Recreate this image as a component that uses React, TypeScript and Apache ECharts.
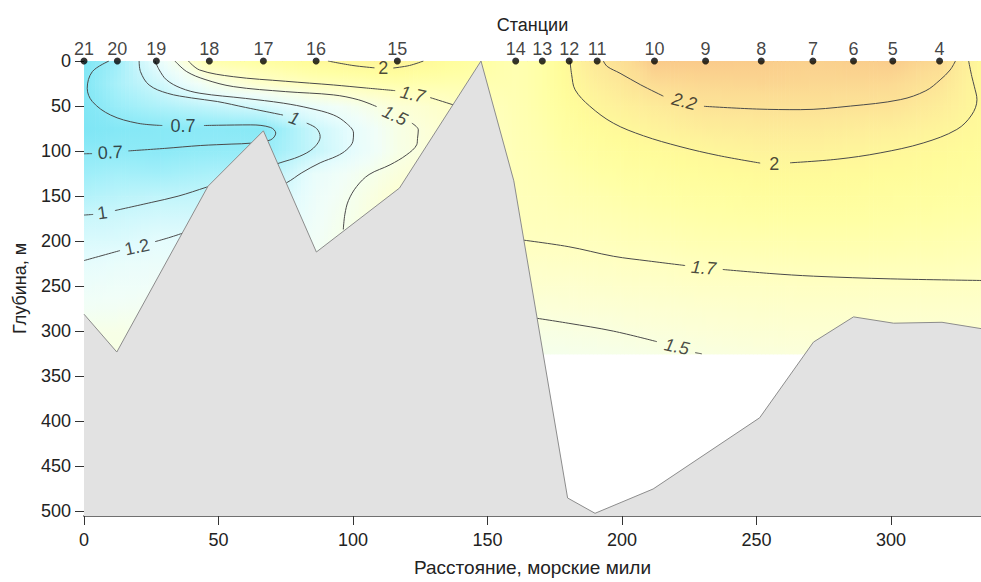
import React, { useEffect, useRef } from "react";
import * as echarts from "echarts";

// ---------------- DATA ----------------
const STATION_NAMES = ["21", "20", "19", "18", "17", "16", "15", "14", "13", "12", "11", "10", "9", "8", "7", "6", "5", "4"];
const STATION_X = [0, 12.4, 26.9, 46.6, 66.7, 86.3, 116.5, 160.5, 170.4, 180.4, 190.8, 212.1, 231.1, 251.8, 271, 286.1, 300.7, 318.1];
const FIELD_EDGE_X = 333.5;
const DEPTHS = [0, 25, 50, 75, 100, 125, 150, 175, 200, 225, 250, 275, 300, 325];

// temperature profiles (°C) per station at DEPTHS
const T_ST21 = [0.62, 0.63, 0.6, 0.58, 0.69, 0.78, 0.89, 1.02, 1.12, 1.21, 1.3, 1.37, 1.46, 1.48];
const T_ST20 = [0.79, 0.84, 0.76, 0.64, 0.7, 0.82, 0.93, 1.04, 1.13, 1.25, 1.32, 1.38, 1.46, 1.48];
const T_ST19 = [1.22, 1.03, 0.86, 0.66, 0.68, 0.8, 0.96, 1.08, 1.2, 1.28, 1.34, 1.4, 1.45, 1.47];
const T_ST18 = [1.8, 1.42, 0.97, 0.68, 0.72, 0.85, 0.97, 1.08, 1.2, 1.28, 1.34, 1.38, 1.42, 1.45];
const T_ST17 = [1.88, 1.62, 1.1, 0.66, 0.74, 0.85, 0.97, 1.08, 1.2, 1.28, 1.34, 1.38, 1.42, 1.45];
const T_ST16 = [1.97, 1.72, 1.28, 1.02, 0.99, 1.26, 1.3, 1.33, 1.36, 1.38, 1.4, 1.42, 1.44, 1.45];
const T_ST15 = [2.04, 1.8, 1.55, 1.47, 1.46, 1.52, 1.58, 1.6, 1.62, 1.62, 1.6, 1.58, 1.55, 1.52];
const T_ST14 = [1.78, 1.78, 1.77, 1.76, 1.75, 1.74, 1.73, 1.72, 1.7, 1.65, 1.6, 1.54, 1.48, 1.44];
const T_ST13 = [1.84, 1.84, 1.83, 1.81, 1.79, 1.77, 1.75, 1.73, 1.7, 1.65, 1.6, 1.54, 1.48, 1.43];
const T_ST12 = [2.0, 1.97, 1.93, 1.89, 1.85, 1.81, 1.78, 1.74, 1.71, 1.66, 1.6, 1.55, 1.49, 1.44];
const T_ST11 = [2.15, 2.08, 2.02, 1.95, 1.9, 1.85, 1.8, 1.76, 1.72, 1.67, 1.62, 1.56, 1.5, 1.45];
const T_ST10 = [2.33, 2.25, 2.12, 2.04, 1.96, 1.9, 1.85, 1.8, 1.75, 1.69, 1.64, 1.58, 1.53, 1.47];
const T_ST9 = [2.33, 2.27, 2.2, 2.1, 2.0, 1.94, 1.88, 1.83, 1.78, 1.72, 1.66, 1.6, 1.55, 1.5];
const T_ST8 = [2.32, 2.28, 2.21, 2.12, 2.04, 1.97, 1.91, 1.85, 1.79, 1.73, 1.67, 1.62, 1.57, 1.52];
const T_ST7 = [2.3, 2.27, 2.21, 2.12, 2.04, 1.97, 1.92, 1.86, 1.8, 1.74, 1.68, 1.63, 1.58, 1.53];
const T_ST6 = [2.31, 2.27, 2.2, 2.1, 2.02, 1.96, 1.91, 1.86, 1.8, 1.74, 1.68, 1.63, 1.58, 1.53];
const T_ST5 = [2.32, 2.26, 2.19, 2.08, 2.0, 1.95, 1.9, 1.85, 1.8, 1.74, 1.68, 1.63, 1.58, 1.53];
const T_ST4 = [2.26, 2.18, 2.1, 2.03, 1.97, 1.93, 1.89, 1.84, 1.79, 1.74, 1.68, 1.63, 1.58, 1.53];
const T_EDGE = [1.98, 1.98, 1.99, 1.97, 1.94, 1.91, 1.87, 1.83, 1.78, 1.73, 1.68, 1.63, 1.58, 1.53];

// bottom profile (distance, depth)
const BOTTOM_X = [0, 12.2, 46.1, 66.7, 86.4, 117.3, 147.6, 159.8, 179.8, 190, 211.6, 251.2, 271.2, 286.1, 301, 319, 333.5];
const BOTTOM_D = [281, 323, 139, 77.5, 212, 141, 0, 133, 485, 502, 475, 396, 312, 284, 291, 290, 297];

// isotherms, as segments of [distance, depth] (gaps where the labels sit)
const ISO_0_7 = [
  [[0, 103], [3, 102.8]],
  [[16.5, 99.8], [30, 97], [43.4, 93.8], [55, 92.2], [62, 91.2], [69.4, 87.5], [71.3, 80], [69.4, 73.8], [62, 70.9], [50, 71.3], [44.6, 71.6]],
  [[29.1, 71.6], [19.8, 69], [9.9, 60], [3.1, 45], [1.2, 30.3], [3.1, 11.8], [9.3, 0]],
];
const ISO_1 = [
  [[0, 171], [3.4, 170.3]],
  [[11.5, 166], [25, 157], [35, 150], [45.6, 140], [60, 126], [72.9, 113], [80, 106], [85.3, 96.7], [87.8, 84], [86.5, 75], [82.8, 69]],
  [[74, 60], [60, 51.5], [49.6, 45], [40, 41], [31, 35.8], [24.2, 26.6], [21, 11.8], [20.5, 0]],
];
const ISO_1_2 = [
  [[0, 221.5], [13.4, 210.4]],
  [[26.4, 200.5], [37.5, 190], [55, 165], [75.4, 135], [81, 124], [87.8, 113], [94, 105.5], [97.7, 98.4], [100, 89], [100.2, 80], [97.5, 69], [92.7, 59.8], [84, 52.5], [74.1, 46.8], [60, 41.5], [43.1, 35.8], [36, 30], [30.7, 21], [28, 10], [26.4, 0]],
];
const ISO_1_5_W = [
  [[33.8, 0], [38.2, 11.8], [45, 20.5], [55.5, 28.4], [75, 34], [92.7, 37.6], [102, 43], [108.8, 50.6]],
  [[121.9, 69], [124.3, 76.4], [124, 86], [123.7, 93], [120, 104], [113.8, 115.2], [106, 126], [101.4, 139.2], [98.3, 155], [97, 170], [96.4, 187]],
];
const ISO_1_7_W = [
  [[38.8, 0], [43, 10], [55.5, 17.4], [75, 22.5], [92.7, 26.6], [105, 30], [115.7, 32.9]],
  [[128.7, 40.6], [137.3, 48.7], [140, 51.5]],
];
const ISO_2_W = [
  [[90.7, 0], [100, 5], [108, 7.6]],
  [[115, 7.8], [121, 5], [126.2, 0]],
];
const ISO_2_E = [
  [[180.7, 0], [181.3, 15], [182.6, 32], [188, 50], [196.8, 69], [208, 83], [221.6, 95], [236, 105], [251.4, 113.3]],
  [[262.5, 113], [280, 109], [296, 102], [312, 91], [324.5, 76], [330, 60], [332, 43], [331, 28], [330.1, 17.4], [328.9, 0]],
];
const ISO_2_2 = [
  [[193.1, 0], [194.5, 6], [199.3, 13.6], [207, 26.5], [215.4, 39]],
  [[230.5, 50.3], [250, 53.3], [266.3, 54], [285, 50], [303.5, 42.9], [313, 33], [318.3, 21], [322, 10], [324, 0]],
];
const ISO_1_7_E = [
  [[160, 197.5], [180, 206], [196.8, 216.7], [210, 222], [223.5, 227]],
  [[237.5, 231.4], [255, 235.8], [271.2, 238.8], [300, 241.8], [334, 243.6]],
];
const ISO_1_5_E = [
  [[165, 284], [180, 291], [196.8, 299.8], [213, 311.5]],
  [[227.2, 323.7], [229.7, 325]],
];

const LABEL_TEXT = ["0.7", "0.7", "1", "1", "1.2", "1.5", "1.7", "2", "2.2", "2", "1.7", "1.5"];
const LABEL_AT = [
  [9.8, 101.5], [36.8, 72], [6.8, 168.5], [78.2, 63.5], [19.7, 206.5], [115.6, 60.5],
  [122.2, 37], [111.3, 7.5], [223.2, 45], [256.6, 114], [230.3, 229.6], [220.4, 317],
];

// ---------------- STYLE ----------------
const LABEL_ROTATE = [2, 0, 8, -20, 12, -25, -12, 0, -14, 0, -5, -12];
const LABEL_ITALIC = [false, false, false, true, false, true, true, false, true, false, true, true];
const FONT = "Arial, 'Liberation Sans', Helvetica, sans-serif";
const FS = 18;

const COLOR_STOPS: [number, number[]][] = [
  [0.55, [124, 229, 244]],
  [0.65, [134, 232, 246]],
  [0.8, [162, 239, 249]],
  [1.0, [200, 246, 251]],
  [1.2, [229, 252, 253]],
  [1.35, [241, 254, 248]],
  [1.45, [246, 255, 233]],
  [1.55, [252, 255, 215]],
  [1.7, [255, 255, 192]],
  [1.85, [255, 255, 165]],
  [1.95, [255, 252, 154]],
  [2.05, [254, 242, 155]],
  [2.15, [253, 232, 152]],
  [2.25, [252, 220, 148]],
  [2.35, [249, 198, 136]],
];

function tempColor(v: number): string {
  const s = COLOR_STOPS;
  if (v <= s[0][0]) return `rgb(${s[0][1].join(",")})`;
  for (let k = 1; k < s.length; k++) {
    if (v <= s[k][0]) {
      const t = (v - s[k - 1][0]) / (s[k][0] - s[k - 1][0]);
      const a = s[k - 1][1];
      const b = s[k][1];
      const c = a.map((x, q) => Math.round(x + (b[q] - x) * t));
      return `rgb(${c.join(",")})`;
    }
  }
  return `rgb(${s[s.length - 1][1].join(",")})`;
}

export default function App() {
  const ref = useRef<HTMLDivElement>(null);

  useEffect(() => {
    if (!ref.current) return;
    const chart = echarts.init(ref.current, undefined, { renderer: "svg" });

    const FIELD_X = [...STATION_X, FIELD_EDGE_X];
    const FIELD_COLUMNS = [
      T_ST21, T_ST20, T_ST19, T_ST18, T_ST17, T_ST16, T_ST15, T_ST14, T_ST13, T_ST12,
      T_ST11, T_ST10, T_ST9, T_ST8, T_ST7, T_ST6, T_ST5, T_ST4, T_EDGE,
    ];
    const cells: number[][] = [];
    for (let i = 0; i < FIELD_X.length - 1; i++) {
      for (let j = 0; j < DEPTHS.length - 1; j++) cells.push([i, j]);
    }

    const fieldSeries = {
      type: "custom",
      coordinateSystem: "cartesian2d",
      silent: true,
      z: 1,
      data: cells,
      renderItem: (_params: any, api: any) => {
        const i = api.value(0);
        const j = api.value(1);
        const pA = api.coord([FIELD_X[i], DEPTHS[j]]);
        const pB = api.coord([FIELD_X[i + 1], DEPTHS[j + 1]]);
        const w = pB[0] - pA[0];
        const h = pB[1] - pA[1];
        const n = Math.max(1, Math.ceil(w / 4));
        const cL = FIELD_COLUMNS[i];
        const cR = FIELD_COLUMNS[i + 1];
        const children: any[] = [];
        for (let k = 0; k < n; k++) {
          const t = (k + 0.5) / n;
          const vt = cL[j] + (cR[j] - cL[j]) * t;
          const vb = cL[j + 1] + (cR[j + 1] - cL[j + 1]) * t;
          children.push({
            type: "rect",
            shape: { x: pA[0] + (k * w) / n, y: pA[1], width: w / n + 0.7, height: h + 0.6 },
            style: {
              fill: new echarts.graphic.LinearGradient(0, 0, 0, 1, [
                { offset: 0, color: tempColor(vt) },
                { offset: 0.5, color: tempColor((vt + vb) / 2) },
                { offset: 1, color: tempColor(vb) },
              ]),
            },
          });
        }
        return { type: "group", children };
      },
    };

    const isoSets = [ISO_0_7, ISO_1, ISO_1_2, ISO_1_5_W, ISO_1_7_W, ISO_2_W, ISO_2_E, ISO_2_2, ISO_1_7_E, ISO_1_5_E];
    const contourSeries: any[] = [];
    isoSets.forEach((set) =>
      set.forEach((seg) =>
        contourSeries.push({
          type: "line",
          data: seg,
          smooth: 0.35,
          symbol: "none",
          silent: true,
          z: 3,
          lineStyle: { color: "#4a4a4a", width: 1 },
        })
      )
    );

    const labelSeries = {
      type: "scatter",
      silent: true,
      z: 4,
      symbolSize: 1,
      itemStyle: { color: "rgba(0,0,0,0)" },
      data: LABEL_TEXT.map((t, k) => ({
        value: LABEL_AT[k],
        name: t,
        label: {
          rotate: LABEL_ROTATE[k],
          fontStyle: LABEL_ITALIC[k] ? "italic" : "normal",
        },
      })),
      label: {
        show: true,
        position: "inside",
        formatter: "{b}",
        fontSize: FS,
        color: "#1a1a1a",
        fontFamily: FONT,
      },
    };

    const mountainSeries = {
      type: "line",
      data: BOTTOM_X.map((x, k) => [x, BOTTOM_D[k]]),
      symbol: "none",
      silent: true,
      z: 5,
      lineStyle: { color: "#8c8c8c", width: 1 },
      areaStyle: { color: "#e2e2e2", opacity: 1, origin: "end" },
    };

    const stationSeries = {
      type: "scatter",
      silent: true,
      clip: false,
      z: 6,
      symbolSize: 7,
      itemStyle: { color: "#000" },
      data: STATION_X.map((x, k) => ({ value: [x, 0], name: STATION_NAMES[k] })),
      label: {
        show: true,
        position: "top",
        distance: 0,
        formatter: "{b}",
        fontSize: FS,
        color: "#111",
        fontFamily: FONT,
      },
    };

    const ticksX = [0, 50, 100, 150, 200, 250, 300];
    const ticksY = [0, 50, 100, 150, 200, 250, 300, 350, 400, 450, 500];

    chart.setOption({
      animation: false,
      textStyle: { fontFamily: FONT },
      grid: { left: 84, right: 0, top: 61, bottom: 65, containLabel: false },
      xAxis: [
        {
          type: "value",
          position: "bottom",
          min: 0,
          max: 333.5,
          name: "Расстояние, морские мили",
          nameLocation: "middle",
          nameGap: 42,
          nameTextStyle: { fontSize: 19, color: "#222", fontFamily: FONT },
          axisLine: { show: true, onZero: false, lineStyle: { color: "#707070", width: 2 } },
          axisTick: { show: true, length: 9, customValues: ticksX, lineStyle: { color: "#333" } },
          axisLabel: { customValues: ticksX, fontSize: FS, color: "#222", margin: 15, fontFamily: FONT },
          splitLine: { show: false },
        },
        {
          type: "value",
          position: "top",
          min: 0,
          max: 333.5,
          name: "Станции",
          nameLocation: "middle",
          nameGap: 27,
          nameTextStyle: { fontSize: FS, color: "#222", fontFamily: FONT },
          axisLine: { show: true, onZero: false, lineStyle: { color: "#000", width: 1 } },
          axisTick: { show: false },
          axisLabel: { show: false },
          splitLine: { show: false },
        },
      ],
      yAxis: {
        type: "value",
        inverse: true,
        min: 0,
        max: 505,
        name: "Глубина, м",
        nameLocation: "middle",
        nameGap: 55,
        nameRotate: 90,
        nameTextStyle: { fontSize: FS, color: "#222", fontFamily: FONT },
        axisLine: { show: true, onZero: false, lineStyle: { color: "#444", width: 1 } },
        axisTick: { show: true, length: 9, customValues: ticksY, lineStyle: { color: "#333" } },
        axisLabel: { customValues: ticksY, fontSize: FS, color: "#222", margin: 13, fontFamily: FONT },
        splitLine: { show: false },
      },
      series: [fieldSeries, ...contourSeries, labelSeries, mountainSeries, stationSeries],
    });

    return () => chart.dispose();
  }, []);

  return (
    <div
      ref={ref}
      style={{ position: "absolute", left: 0, top: 0, width: 981, height: 582, overflow: "hidden" }}
    />
  );
}
